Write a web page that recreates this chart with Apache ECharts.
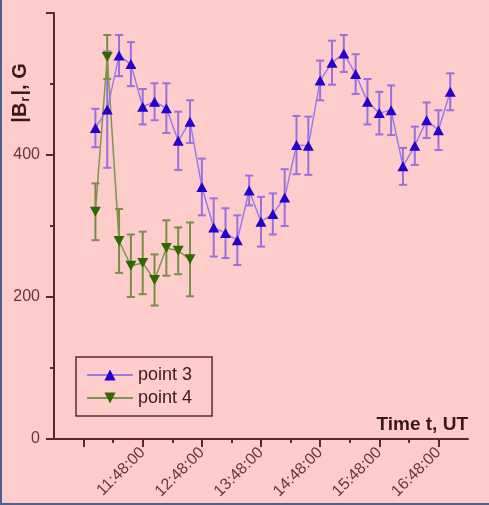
<!DOCTYPE html>
<html>
<head>
<meta charset="utf-8">
<script src="https://cdn.jsdelivr.net/npm/echarts@6/dist/echarts.min.js"></script>
<style>
  html, body { margin: 0; padding: 0; background: #ffcccc; }
  #chart { width: 489px; height: 505px; }
</style>
</head>
<body>
<div id="chart"></div>
<script>
// Observation times (UT) and field magnitudes |Br| with errors, in gauss
const times3 = ['11:00','11:12','11:24','11:36','11:48','12:00','12:12','12:24','12:36','12:48',
                '13:00','13:12','13:24','13:36','13:48','14:00','14:12','14:24','14:36','14:48',
                '15:00','15:12','15:24','15:36','15:48','16:00','16:12','16:24','16:36','16:48','17:00'];
const values3 = [438, 464, 540, 528, 468, 475, 466, 420, 447, 355,
                 298, 290, 280, 350, 306, 317, 340, 414, 413, 505,
                 530, 543, 514, 475, 459, 463, 384, 413, 449, 435, 489];
const errors3 = [27, 82, 29, 31, 25, 26, 35, 41, 30, 40,
                 41, 35, 35, 21, 35, 29, 40, 41, 41, 28,
                 31, 26, 28, 32, 30, 35, 26, 27, 25, 28, 26];

const times4 = ['11:00','11:12','11:24','11:36','11:48','12:00','12:12','12:24','12:36'];
const values4 = [320, 538, 279, 244, 248, 224, 269, 265, 253];
const errors4 = [40, 31, 45, 44, 44, 36, 39, 33, 52];

// Axis ticks (minutes after 10:48 UT)
const hourTicks = [0, 60, 120, 180, 240, 300, 360];
const halfHourTicks = [30, 90, 150, 210, 270, 330];
const labelTicks = [60, 120, 180, 240, 300, 360];
const yTicks = [0, 200, 400];

const ORIGIN = 10 * 60 + 48;
const toMin = t => { const [h, m] = t.split(':').map(Number); return h * 60 + m - ORIGIN; };
const fmtTime = v => {
  const t = Math.round(v) + ORIGIN;
  return Math.floor(t / 60) + ':' + String(t % 60).padStart(2, '0') + ':00';
};

const FONT = 'Liberation Sans, Arial, sans-serif';
const AXIS = '#5a2a2a';
const TXT = '#6a3434';

const c3 = { marker: '#2400cc', line: '#9c7ce8', err: '#9a6fe0' };
const c4 = { marker: '#2e6a00', line: '#7f9450', err: '#7a8c48' };

const line3 = times3.map((t, i) => [toMin(t), values3[i]]);
const line4 = times4.map((t, i) => [toMin(t), values4[i]]);
const bars3 = times3.map((t, i) => [toMin(t), values3[i] - errors3[i], values3[i] + errors3[i]]);
const bars4 = times4.map((t, i) => [toMin(t), values4[i] - errors4[i], values4[i] + errors4[i]]);

function errorBar(color) {
  return function (params, api) {
    const lo = api.coord([api.value(0), api.value(1)]);
    const hi = api.coord([api.value(0), api.value(2)]);
    const w = 4;
    const style = { stroke: color, lineWidth: 2 };
    return {
      type: 'group',
      children: [
        { type: 'line', shape: { x1: lo[0], y1: lo[1], x2: hi[0], y2: hi[1] }, style },
        { type: 'line', shape: { x1: lo[0] - w, y1: lo[1], x2: lo[0] + w, y2: lo[1] }, style },
        { type: 'line', shape: { x1: hi[0] - w, y1: hi[1], x2: hi[0] + w, y2: hi[1] }, style }
      ]
    };
  };
}

const downTriangle = 'path://M0,0 L10,0 L5,9 Z';

const chart = echarts.init(document.getElementById('chart'));
chart.setOption({
  animation: false,
  backgroundColor: '#ffcccc',
  grid: { left: 54, right: 21, top: 13, bottom: 66 },
  xAxis: [{
    type: 'value', min: -30, max: 390, interval: 30,
    name: 'Time t, UT', nameLocation: 'end', nameGap: 0,
    nameTextStyle: { fontFamily: FONT, fontWeight: 'bold', fontSize: 19, color: '#3a1818',
                     align: 'right', verticalAlign: 'bottom', padding: [0, 0, 5, 0] },
    axisLine: { onZero: false, lineStyle: { color: AXIS, width: 2 } },
    axisTick: { length: 8, lineStyle: { color: AXIS, width: 2 }, customValues: hourTicks },
    axisLabel: { rotate: 45, margin: 11, fontFamily: FONT, fontSize: 16, color: TXT,
                 customValues: labelTicks, formatter: fmtTime },
    splitLine: { show: false }
  }, {
    type: 'value', min: -30, max: 390, interval: 30, position: 'bottom',
    axisLine: { show: false, onZero: false },
    axisTick: { length: 4, lineStyle: { color: AXIS, width: 2 }, customValues: halfHourTicks },
    axisLabel: { show: false },
    splitLine: { show: false }
  }],
  yAxis: {
    type: 'value', min: 0, max: 600, interval: 200,
    axisLine: { show: true, onZero: false, lineStyle: { color: AXIS, width: 2 } },
    axisTick: { show: true, length: 8, lineStyle: { color: AXIS, width: 2 } },
    minorTick: { show: true, splitNumber: 2, length: 4, lineStyle: { color: AXIS, width: 2 } },
    axisLabel: { margin: 14, fontFamily: FONT, fontSize: 16, color: TXT,
                 customValues: yTicks, formatter: v => String(v) },
    splitLine: { show: false }
  },
  legend: {
    orient: 'vertical', left: 76, top: 357,
    data: ['point 3', 'point 4'],
    padding: [9, 20, 9, 10], itemWidth: 46, itemHeight: 14, itemGap: 5,
    borderColor: '#5a2d2d', borderWidth: 1.5,
    textStyle: { fontFamily: FONT, fontSize: 18, color: '#3a1a1a' }
  },
  graphic: [
    {
      type: 'text', x: 20, y: 93, rotation: Math.PI / 2,
      style: {
        text: '{a||B}{s|r}{a||, G}',
        align: 'center', verticalAlign: 'middle',
        fontFamily: FONT,
        rich: {
          a: { fontFamily: FONT, fontWeight: 'bold', fontSize: 20, fill: '#3a1818', lineHeight: 26 },
          s: { fontFamily: FONT, fontWeight: 'bold', fontSize: 13, fill: '#3a1818', lineHeight: 26, padding: [10, 1, 0, 1] }
        }
      }
    },
    { type: 'rect', left: 0, top: 0, shape: { width: 2, height: 505 }, style: { fill: '#44639c' } },
    { type: 'rect', left: 0, bottom: 0, shape: { width: 489, height: 2 }, style: { fill: '#44639c' } }
  ],
  series: [
    { type: 'custom', name: 'err3', renderItem: errorBar(c3.err), data: bars3, z: 2, silent: true },
    { type: 'custom', name: 'err4', renderItem: errorBar(c4.err), data: bars4, z: 2, silent: true },
    {
      type: 'line', name: 'point 4', data: line4, z: 3,
      symbol: downTriangle, symbolSize: [11, 10],
      itemStyle: { color: c4.marker },
      lineStyle: { color: c4.line, width: 1.5 }
    },
    {
      type: 'line', name: 'point 3', data: line3, z: 4,
      symbol: 'triangle', symbolSize: [11, 10],
      itemStyle: { color: c3.marker },
      lineStyle: { color: c3.line, width: 1.5 }
    }
  ]
});
</script>
</body>
</html>
